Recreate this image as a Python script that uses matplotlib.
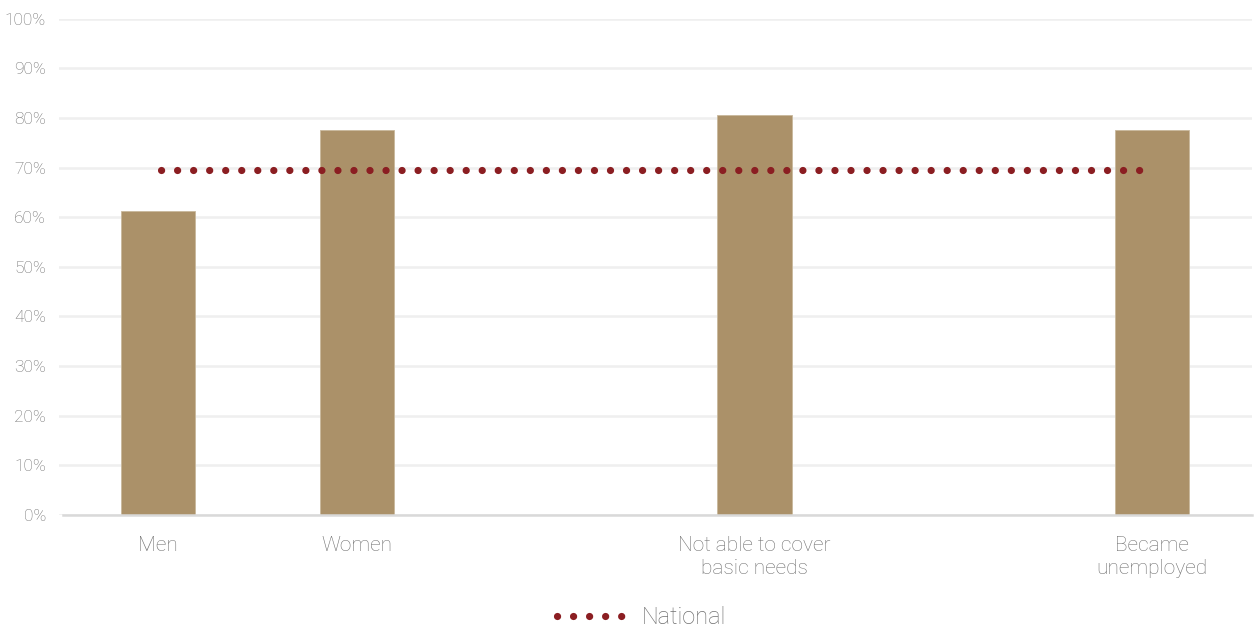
import numpy as np
import matplotlib
matplotlib.use("Agg")
import matplotlib.pyplot as plt
from matplotlib.lines import Line2D

# Category slots (two spacer slots keep the original spacing)
categories = ["Men", "Women", "", "Not able to cover\nbasic needs", "", "Became\nunemployed"]
shares = [61.3, 77.5, np.nan, 80.6, np.nan, 77.5]
national = 69.5
y_ticks = [0, 10, 20, 30, 40, 50, 60, 70, 80, 90, 100]

BAR = "#ab9169"
DOT = "#8b1e22"
TEXT = "#707070"
GRID = "#efefef"

plt.rcParams["font.family"] = ["Roboto", "DejaVu Sans"]

fig = plt.figure(figsize=(12.55, 6.3), dpi=100)
ax = fig.add_axes([0.0467, 0.1825, 0.9506, 0.7878])

x = np.arange(len(categories))
ax.bar(x, shares, width=0.375, color=BAR, edgecolor="#c9b89c", linewidth=0.6, zorder=2)

dotted = (1.80, (0.01, 2.21))
ax.plot([x[0], x[-1]], [national, national], color=DOT, lw=5.2,
        linestyle=dotted, dash_capstyle="round", zorder=3, label="National")

ax.set_xlim(-0.5, len(categories) - 0.5)
ax.set_ylim(0, 100)
ax.set_yticks(y_ticks)
ax.set_yticklabels([f"{t}%" for t in y_ticks])
ax.set_xticks(x)
ax.set_xticklabels(categories)

ax.grid(axis="y", color=GRID, lw=1.8, zorder=0)
ax.set_axisbelow(True)
for side in ("top", "right", "left"):
    ax.spines[side].set_visible(False)
ax.spines["bottom"].set_color("#d9d9d9")
ax.spines["bottom"].set_linewidth(1.8)
ax.spines["bottom"].set_zorder(4)
ax.spines["bottom"].set_bounds(-0.48, len(categories) - 0.5)

ax.tick_params(axis="y", length=0, pad=9, labelsize=12.5, labelcolor=TEXT)
ax.tick_params(axis="x", length=0, pad=15, labelsize=15, labelcolor=TEXT)
for lbl in ax.get_yticklabels() + ax.get_xticklabels():
    lbl.set_fontweight("light")
for lbl in ax.get_xticklabels():
    lbl.set_linespacing(1.3)

handle = Line2D([], [], color=DOT, lw=5.2, linestyle=(0, (0.01, 2.21)), dash_capstyle="round")
leg = fig.legend([handle], ["National"], loc="center", bbox_to_anchor=(0.5115, 0.02),
                 frameon=False, handlelength=3.1, handletextpad=0.5,
                 borderpad=0.2, prop={"size": 17, "weight": "light"})
for t in leg.get_texts():
    t.set_color(TEXT)

fig.savefig("out.png", dpi=100, facecolor="white")
